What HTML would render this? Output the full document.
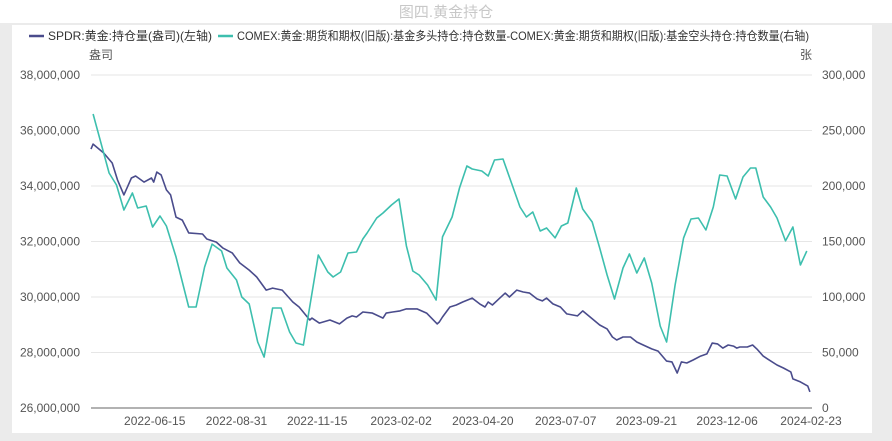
<!DOCTYPE html>
<html><head><meta charset="utf-8">
<style>
html,body{margin:0;padding:0;background:#fff;}
body{width:892px;height:441px;position:relative;overflow:hidden;font-family:"Liberation Sans","Noto Sans CJK SC",sans-serif;}
#frame{position:absolute;left:0;top:23px;width:892px;height:418px;background:#ebebeb;}
#panel{position:absolute;left:12px;top:25px;width:860px;height:408px;background:#fff;}
#title{position:absolute;left:0;top:1px;width:892px;text-align:center;font-size:15px;color:#c8c8c8;}
svg{position:absolute;left:0;top:0;}
</style></head>
<body>
<div id="frame"></div>
<div id="panel"></div>
<div id="title">图四.黄金持仓</div>
<svg id="chart" width="892" height="441"></svg>
<script>
// x: days since 2022-04-16
const spdrDays=[0,2,12,20,25,31,38,42,50,57,59,62,66,71,75,80,86,92,105,109,118,124,133,140,149,156,165,171,180,190,196,206,208,215,225,234,241,246,250,256,265,275,278,284,291,297,307,316,326,328,331,338,344,350,359,366,371,374,378,385,390,394,401,407,413,420,425,429,435,442,448,458,463,470,479,486,491,495,501,508,514,520,528,534,542,547,552,556,561,567,574,580,585,590,595,600,605,608,611,618,623,627,633,637,646,652,659,661,668,675,677];
const spdrValues=[35.33,35.51,35.19,34.83,34.22,33.68,34.29,34.36,34.14,34.29,34.14,34.50,34.40,33.86,33.68,32.88,32.77,32.31,32.27,32.09,31.98,31.77,31.59,31.23,30.97,30.72,30.25,30.32,30.25,29.82,29.64,29.17,29.24,29.06,29.17,29.03,29.24,29.32,29.28,29.46,29.42,29.24,29.42,29.46,29.50,29.57,29.57,29.42,29.03,29.10,29.28,29.64,29.71,29.82,29.96,29.75,29.64,29.82,29.71,29.96,30.14,30.00,30.25,30.18,30.14,29.93,29.86,29.96,29.75,29.64,29.39,29.32,29.50,29.28,28.99,28.85,28.56,28.45,28.56,28.56,28.38,28.27,28.13,28.05,27.69,27.66,27.26,27.66,27.62,27.73,27.87,27.95,28.34,28.31,28.16,28.27,28.23,28.16,28.20,28.20,28.27,28.13,27.87,27.77,27.55,27.44,27.30,27.05,26.94,26.79,26.58];
const comexDays=[2,17,24,31,39,44,52,58,65,71,80,92,99,107,114,123,128,137,142,149,157,163,171,179,187,193,200,214,223,228,235,242,250,256,260,269,275,283,290,297,303,309,317,325,331,340,347,354,359,368,374,380,388,396,404,410,416,423,429,437,443,449,457,463,472,479,486,493,501,507,514,521,528,536,542,550,558,565,572,579,586,592,599,607,614,621,626,633,640,646,654,661,668,674];
const comexValues=[264.9,211.7,200.9,178.4,193.7,180.2,182.0,163.1,173.0,164.0,136.1,91.0,91.0,127.0,147.7,141.4,126.1,115.3,100.0,93.7,59.5,45.9,90.1,90.1,68.5,58.6,56.8,137.8,122.5,118.0,122.5,139.6,140.5,152.3,157.7,171.2,175.7,182.9,188.3,146.0,123.4,119.8,110.8,97.3,154.1,172.1,198.2,218.0,215.3,213.5,209.0,223.4,224.3,202.7,181.1,172.1,176.6,159.5,162.2,153.2,164.0,166.7,198.2,179.3,167.6,144.1,119.8,98.2,126.1,138.7,121.6,135.1,112.6,73.9,59.5,110.8,153.2,170.3,171.2,160.4,181.1,209.9,209.0,188.3,208.1,216.2,216.2,190.1,181.1,171.2,150.5,163.1,128.8,141.4];
const leftTicks=[26,28,30,32,34,36,38];
const leftTickLabels=["26,000,000","28,000,000","30,000,000","32,000,000","34,000,000","36,000,000","38,000,000"];
const rightTickLabels=["0","50,000","100,000","150,000","200,000","250,000","300,000"];
const xTickDays=[60,137,213,292,369,447,523,599,678];
const xTickLabels=["2022-06-15","2022-08-31","2022-11-15","2023-02-02","2023-04-20","2023-07-07","2023-09-21","2023-12-06","2024-02-23"];

const X0=91,X1=812,Y0=408,Y1=75;
const xs=d=>X0+d*(811-X0)/678;
const yl=v=>Y0-(v-26)*(Y0-Y1)/12;
const yr=v=>Y0-v*(Y0-Y1)/300;
const svg=document.getElementById('chart');
const NS='http://www.w3.org/2000/svg';
function mk(tag,attrs,txt){const e=document.createElementNS(NS,tag);for(const k in attrs)e.setAttribute(k,attrs[k]);if(txt!==undefined)e.textContent=txt;svg.appendChild(e);return e;}
const FONT='"Liberation Sans","Noto Sans CJK SC",sans-serif';

leftTicks.forEach((t,i)=>{
  const y=yl(t);
  const g=mk('line',{x1:X0,x2:X1,y1:y,y2:y,stroke:i===0?'#666':'#e6e6e6','stroke-width':1});
  
  
  const l=mk('text',{x:80,y:y+4,'text-anchor':'end','font-size':12,fill:'#555','font-family':FONT},leftTickLabels[i]);
  
  
  const r=mk('text',{x:822,y:yr(i*50)+4,'text-anchor':'start','font-size':12,fill:'#555','font-family':FONT},rightTickLabels[i]);
  
  
});
xTickDays.forEach((d,i)=>{
  const t=mk('text',{x:xs(d),y:425,'text-anchor':'middle','font-size':12,fill:'#555','font-family':FONT},xTickLabels[i]);
  
  
});
const u1=mk('text',{x:101,y:59,'text-anchor':'middle','font-size':12,fill:'#555','font-family':FONT},'盎司');


const u2=mk('text',{x:806,y:59,'text-anchor':'middle','font-size':12,fill:'#555','font-family':FONT},'张');



const p1=mk('path',{d:spdrDays.map((d,i)=>(i?'L':'M')+xs(d).toFixed(1)+','+yl(spdrValues[i]).toFixed(1)).join(''),fill:'none',stroke:'#4a4c8c','stroke-width':1.6,'stroke-linejoin':'round'});


const p2=mk('path',{d:comexDays.map((d,i)=>(i?'L':'M')+xs(d).toFixed(1)+','+yr(comexValues[i]).toFixed(1)).join(''),fill:'none',stroke:'#3dbfae','stroke-width':1.6,'stroke-linejoin':'round'});



const lg1=mk('line',{x1:29,x2:44,y1:36,y2:36,stroke:'#4a4c8c','stroke-width':2.5});


const lt1=mk('text',{x:48,y:40,'font-size':12,fill:'#333','font-family':FONT},'SPDR:黄金:持仓量(盎司)(左轴)');


const lg2=mk('line',{x1:218,x2:233,y1:36,y2:36,stroke:'#3dbfae','stroke-width':2.5});


const lt2=mk('text',{x:237,y:40,'font-size':12,fill:'#333','font-family':FONT,textLength:572,lengthAdjust:'spacingAndGlyphs'},'COMEX:黄金:期货和期权(旧版):基金多头持仓:持仓数量-COMEX:黄金:期货和期权(旧版):基金空头持仓:持仓数量(右轴)');


</script>
</body></html>
